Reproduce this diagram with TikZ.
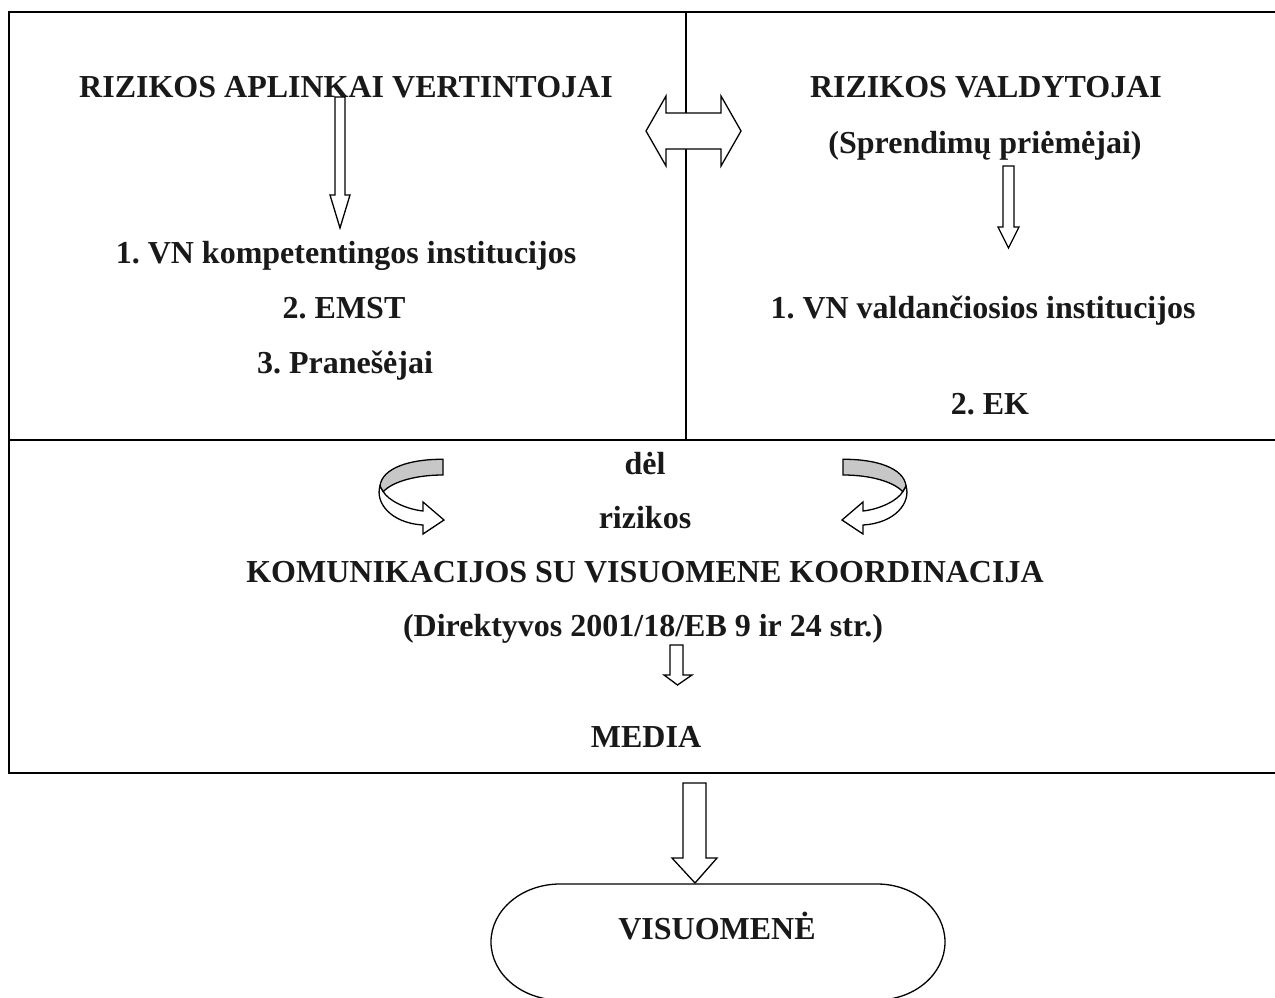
\documentclass[tikz,border=0pt]{standalone}
\usepackage{fontspec}
\setmainfont{Liberation Serif}
\frenchspacing
\begin{document}
\begin{tikzpicture}[x=1pt,y=-1pt,
  txt/.style={anchor=base,inner sep=0pt,font=\fontsize{32}{38}\selectfont\bfseries,text=black!90},
  frame/.style={line width=2pt,black},
  blockarrow/.style={line width=1.3pt,black,fill=white,line join=miter},
  outline/.style={line width=1.3pt,black}]
\useasboundingbox (0,0) rectangle (1275,998);
% frame
\draw[frame] (1275,12) -- (9,12) -- (9,773) -- (1275,773);
\draw[frame] (9,440) -- (1275,440);
\draw[frame] (686,12) -- (686,440);
% texts top-left
\node[txt] (ra) at (346,98) {RIZIKOS APLINKAI VERTINTOJAI};
\node[txt] (l1) at (346,263) {1. VN kompetentingos institucijos};
\node[txt] (l2) at (344,318) {2. EMST};
\node[txt] (l3) at (345,373) {3. Pranešėjai};
% texts top-right
\node[txt] (rv) at (986,98) {RIZIKOS VALDYTOJAI};
\node[txt] (sp) at (985,153) {(Sprendimų priėmėjai)};
\node[txt] (r1) at (983,318) {1. VN valdančiosios institucijos};
\node[txt] (r2) at (990,414) {2. EK};
% middle texts
\node[txt] (del) at (645,474) {dėl};
\node[txt] (riz) at (645,528) {rizikos};
\node[txt] (kom) at (645,582) {KOMUNIKACIJOS SU VISUOMENE KOORDINACIJA};
\node[txt] (dir) at (643,636) {(Direktyvos 2001/18/EB 9 ir 24 str.)};
\node[txt] (med) at (646,747) {MEDIA};
% down arrow left
\draw[blockarrow] (335,97) -- (345,97) -- (345,195) -- (350,195) -- (340,228) -- (330,195) -- (335,195) -- cycle;
% down arrow right
\draw[blockarrow] (1003,166) -- (1014,166) -- (1014,227) -- (1019,227) -- (1008.5,248) -- (998,227) -- (1003,227) -- cycle;
% double arrow
\draw[blockarrow] (646,131) -- (666,96) -- (666,113) -- (721,113) -- (721,96) -- (741,131) -- (721,166) -- (721,149) -- (666,149) -- (666,166) -- cycle;
% small arrow above MEDIA
\draw[blockarrow] (670,645) -- (683,645) -- (683,675) -- (692,675) -- (677.5,685) -- (664,675) -- (670,675) -- cycle;
% big arrow to VISUOMENE
\draw[blockarrow] (683,783) -- (706,783) -- (706,858) -- (717,858) -- (695,883) -- (672,858) -- (683,858) -- cycle;
% stadium
\draw[outline] (560,884) -- (877,884) .. controls (914.6,884) and (945,910) .. (945,942)
  .. controls (945,974) and (914.6,1000) .. (877,1000) -- (560,1000)
  .. controls (521.9,1000) and (491,974) .. (491,942)
  .. controls (491,910) and (521.9,884) .. (560,884) -- cycle;
\node[txt] (vis) at (717,939) {VISUOMENĖ};
% curled arrows
\foreach \sx/\dx in {1/0,-1/1286}{
\begin{scope}[xshift=\dx pt,xscale=\sx]
  \draw[outline,fill=white,line join=miter]
    (380,486) .. controls (375,502) and (390,523) .. (423,525) -- (423,534) -- (444,520)
    -- (423,502) -- (423,511) .. controls (405,509) and (388,500) .. (383.3,491.7) -- cycle;
  \draw[outline,fill=black!22]
    (443,459.3) .. controls (410,459) and (382,468) .. (380,486) -- (383.3,491.7)
    .. controls (392,482) and (415,475) .. (443,475) -- cycle;
\end{scope}
}
\end{tikzpicture}
\end{document}
